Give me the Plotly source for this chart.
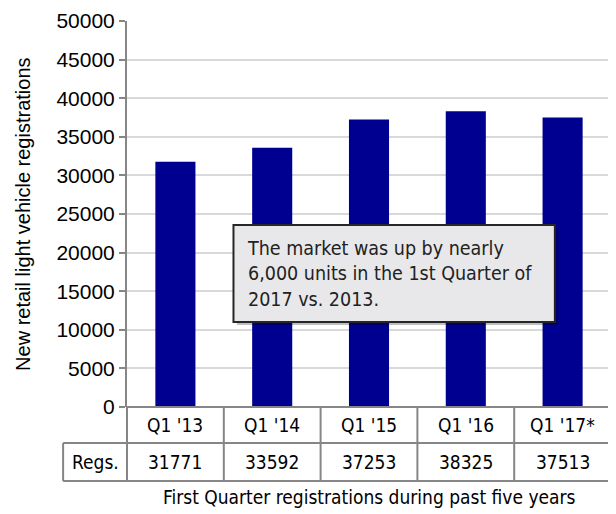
import plotly.graph_objects as go

# Data
quarters = ["Q1 '13", "Q1 '14", "Q1 '15", "Q1 '16", "Q1 '17*"]
registrations = [31771, 33592, 37253, 38325, 37513]
row_label = "Regs."
y_ticks = list(range(0, 50001, 5000))

narrow = "DejaVu Sans Condensed, Liberation Sans, sans-serif"
arial = "Liberation Sans, Arial, sans-serif"
grid_col = "#d9d9d9"
line_col = "#868686"

fig = go.Figure()
fig.add_trace(go.Bar(x=list(range(len(quarters))), y=registrations,
                     marker=dict(color="#000090", line=dict(width=0)),
                     showlegend=False, hoverinfo="skip"))

# table lines below the plot (paper coords, plot height ~386px)
n = len(quarters)
ph = 386.0
row1, row2 = -36 / ph, -74 / ph
label_left = -0.132
line = dict(color=line_col, width=2)
shapes = []
shapes.append(dict(type="line", xref="paper", yref="paper", x0=0, x1=1, y0=0, y1=0, line=line))
shapes.append(dict(type="line", xref="paper", yref="paper", x0=label_left, x1=1, y0=row1, y1=row1, line=line))
shapes.append(dict(type="line", xref="paper", yref="paper", x0=label_left, x1=1, y0=row2, y1=row2, line=line))
shapes.append(dict(type="line", xref="paper", yref="paper", x0=label_left, x1=label_left, y0=row1, y1=row2, line=line))
for k in range(n + 1):
    shapes.append(dict(type="line", xref="paper", yref="paper", x0=k / n, x1=k / n,
                       y0=0, y1=row2, line=line))

# callout box with shadow
shapes.append(dict(type="rect", xref="paper", yref="paper", x0=0.227, x1=0.891,
                   y0=(85 - 3) / ph, y1=(182 - 3) / ph,
                   fillcolor="rgba(0,0,0,0.25)", line=dict(width=0)))
shapes.append(dict(type="rect", xref="paper", yref="paper", x0=0.220, x1=0.884,
                   y0=85 / ph, y1=182 / ph,
                   fillcolor="#e8e8ea", line=dict(color="#262626", width=2)))

cell_font = dict(family=narrow, size=19, color="#000")
annotations = []
for i, (q, v) in enumerate(zip(quarters, registrations)):
    annotations.append(dict(x=i, y=-18 / ph, xref="x", yref="paper", text=q, showarrow=False,
                            xanchor="center", yanchor="middle", font=cell_font))
    annotations.append(dict(x=i, y=-55 / ph, xref="x", yref="paper", text=str(v), showarrow=False,
                            xanchor="center", yanchor="middle", font=cell_font))
annotations.append(dict(x=label_left / 2, y=-55 / ph, xref="paper", yref="paper", text=row_label,
                        showarrow=False, xanchor="center", yanchor="middle", font=cell_font))
annotations.append(dict(x=0.5, y=-90 / ph, xref="paper", yref="paper",
                        text="First Quarter registrations during past five years",
                        showarrow=False, xanchor="center", yanchor="middle",
                        font=dict(family=narrow, size=19, color="#000")))
annotations.append(dict(x=-0.215, y=0.50, xref="paper", yref="paper", textangle=-90,
                        text="New retail light vehicle registrations",
                        showarrow=False, xanchor="center", yanchor="middle",
                        font=dict(family=arial, size=20, color="#000")))
annotations.append(dict(x=0.243, y=133.5 / ph, xref="paper", yref="paper", xanchor="left", yanchor="middle",
                        align="left",
                        text="The market was up by nearly<br>6,000 units in the 1st Quarter of<br>2017 vs. 2013.",
                        showarrow=False, font=dict(family=narrow, size=19.5, color="#222")))

fig.update_layout(
    width=608, height=506,
    margin=dict(l=119, r=5, t=13, b=107),
    paper_bgcolor="white", plot_bgcolor="white",
    bargap=0.586,
    xaxis=dict(range=[-0.5, n - 0.5], showticklabels=False, showgrid=False, zeroline=False,
               showline=False, fixedrange=True),
    yaxis=dict(range=[0, 50000], tickvals=y_ticks, tickformat="d", showgrid=True,
               gridcolor=grid_col, gridwidth=2, ticklabeloverflow="allow", automargin=False,
               zeroline=False, showline=True, linecolor=line_col, linewidth=2,
               ticks="outside", ticklen=6, tickcolor=line_col, tickwidth=2,
               tickfont=dict(family=arial, size=21, color="#000")),
    shapes=shapes,
    annotations=annotations,
)

fig.write_html("out.html")
